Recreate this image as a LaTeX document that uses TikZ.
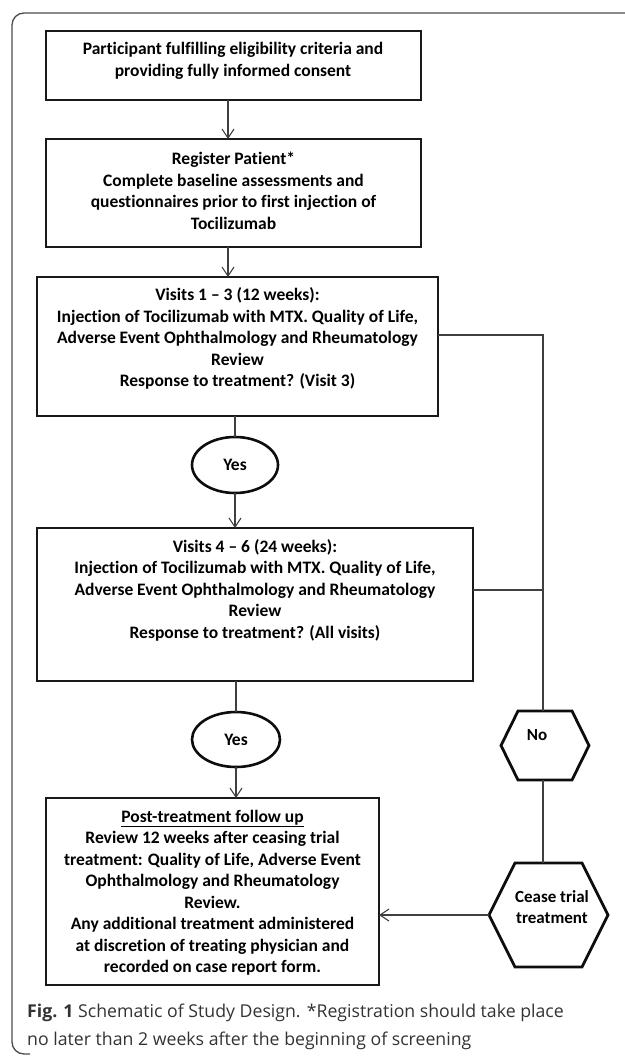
\documentclass[tikz,border=0pt]{standalone}
\usepackage{fontspec}
\setmainfont{Carlito}[Ligatures=NoCommon]
\newfontfamily\capfont{Open Sans}
\usetikzlibrary{shapes.geometric,arrows.meta}
\tikzset{
  boxst/.style={draw=black!90, line width=2.6pt, inner sep=0pt, outer sep=0pt},
  hexst/.style={inner sep=0pt, outer sep=0pt},
  hexline/.style={draw=black!95, line width=2.8pt, line join=miter},
  txt/.style={align=center, font=\fontsize{17.5}{21.5}\selectfont\bfseries, inner sep=0pt},
  yesst/.style={ellipse, draw=black!95, line width=2.6pt, inner sep=0pt, outer sep=0pt,
     font=\fontsize{17.5}{21.5}\selectfont\bfseries},
  conn/.style={draw=black!75, line width=1.1pt},
  arr/.style={conn, -{Straight Barb[length=9pt,width=12pt,line width=1.1pt]}},
  framest/.style={draw=black!70, line width=1.3pt}
}
\begin{document}
\begin{tikzpicture}[x=1pt,y=-1pt]
\useasboundingbox (0,0) rectangle (624,1056);
% frame
\draw[framest, rounded corners=12pt] (630,13) -- (12,13) -- (12,1054) -- (30,1054);
% boxes
\node[boxst, minimum width=375pt, minimum height=69pt] (b1) at (233.5,65.5) {};
\node[txt] (t1) at (233,61) {Participant fulfilling eligibility criteria and\\providing fully informed consent};
\node[boxst, minimum width=375pt, minimum height=108pt] (b2) at (233.5,193) {};
\node[txt] (t2) at (233.5,191) {Register Patient*\\Complete baseline assessments and\\questionnaires prior to first injection of\\Tocilizumab};
\node[boxst, minimum width=401pt, minimum height=139pt] (b3) at (237.5,346.5) {};
\node[txt] (t3) at (237.5,338.5) {Visits 1 -- 3 (12 weeks):\\Injection of Tocilizumab with MTX. Quality of Life,\\Adverse Event Ophthalmology and Rheumatology\\Review\\Response to treatment? (Visit 3)};
\node[boxst, minimum width=436pt, minimum height=153pt] (b4) at (255,604.5) {};
\node[txt] (t4) at (255,590) {Visits 4 -- 6 (24 weeks):\\Injection of Tocilizumab with MTX. Quality of Life,\\Adverse Event Ophthalmology and Rheumatology\\Review\\Response to treatment? (All visits)};
\node[boxst, minimum width=333pt, minimum height=187pt] (b5) at (212.5,891.5) {};
\node[txt] (t5) at (212.5,892.5) {\underline{Post-treatment follow up}\\Review 12 weeks after ceasing trial\\treatment: Quality of Life, Adverse Event\\Ophthalmology and Rheumatology\\Review.\\Any additional treatment administered\\at discretion of treating physician and\\recorded on case report form.};
% yes ellipses
\node[yesst, minimum width=86pt, minimum height=56pt] (y1) at (235,465) {Yes};
\node[yesst, minimum width=88pt, minimum height=55pt] (y2) at (236,739.5) {Yes};
% hexagons
\node[hexst, minimum width=88pt, minimum height=69pt] (no) at (545,745.5) {};
\draw[hexline] (no.west) -- ([xshift=17pt]no.north west) -- ([xshift=-17pt]no.north east) -- (no.east) -- ([xshift=-17pt]no.south east) -- ([xshift=17pt]no.south west) -- cycle;
\node[txt, font=\fontsize{17}{21}\selectfont\bfseries] (notxt) at (537,735) {No};
\node[hexst, minimum width=119pt, minimum height=104pt] (cease) at (548.5,915) {};
\draw[hexline] (cease.west) -- ([xshift=26pt]cease.north west) -- ([xshift=-26pt]cease.north east) -- (cease.east) -- ([xshift=-26pt]cease.south east) -- ([xshift=26pt]cease.south west) -- cycle;
\node[txt, font=\fontsize{17}{20.5}\selectfont\bfseries] (ceasetxt) at (552,907) {Cease trial\\treatment};
% connectors
\draw[arr] ([xshift=-5.5pt]b1.south) -- ([xshift=-5.5pt]b2.north);
\draw[arr] ([xshift=-5.5pt]b2.south) -- ([xshift=-5.5pt]b2.south |- b3.north);
\draw[conn] (b3.south -| y1.north) -- (y1.north);
\draw[arr] (y1.south) -- (y1.south |- b4.north);
\draw[conn] (b4.south -| y2.north) -- (y2.north);
\draw[arr] (y2.south) -- (y2.south |- b5.north);
\coordinate (j1) at (543,335);
\coordinate (j3) at ([yshift=11.5pt]b3.east);
\coordinate (j2) at ([yshift=14.5pt]b4.east);
\draw[conn] (j3) -- (j1) -- (j1 |- no.north);
\draw[conn] (j2) -- (j2 -| j1);
\draw[conn] (j1 |- no.south) -- (j1 |- cease.north);
\draw[arr] (cease.west) -- (cease.west -| b5.east);
% caption
\node[anchor=west, align=left, inner sep=0pt, text=black!80, font=\capfont\fontsize{17.7}{28}\selectfont] (cap) at (27,1027) {\textbf{Fig. 1} Schematic of Study Design. *Registration should take place\\no later than 2 weeks after the beginning of screening};
\end{tikzpicture}
\end{document}
